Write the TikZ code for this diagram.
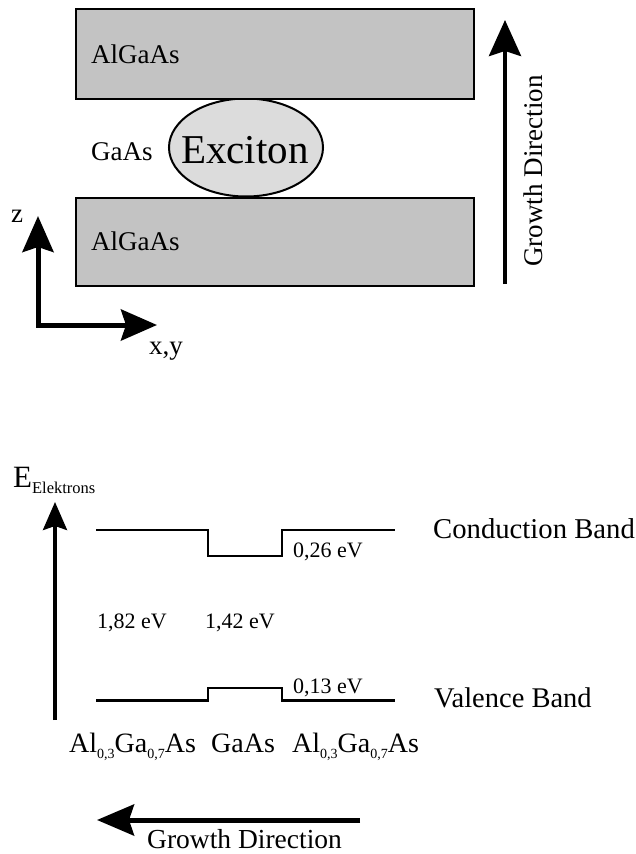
\documentclass[tikz,border=0pt]{standalone}
\usepackage{fontspec}
\setmainfont{Liberation Serif}
\usetikzlibrary{arrows.meta,shapes.geometric}
\definecolor{boxgray}{HTML}{C3C3C3}
\definecolor{exgray}{HTML}{DCDCDC}
\newcommand{\fsz}[1]{\fontsize{#1}{#1}\selectfont}
\newcommand{\sbs}[1]{\raisebox{-6pt}{\fsz{14}#1}}
\begin{document}
\begin{tikzpicture}[x=1pt,y=-1pt,
  layer/.style={draw=black, line width=2pt, fill=boxgray, inner sep=0pt, anchor=north west, minimum width=398pt},
  lbl/.style={inner sep=0pt, font=\fsz{27}},
  small/.style={inner sep=0pt, font=\fsz{22}},
  bigarrow/.style={line width=4pt, -{Stealth[length=36pt,width=32pt,inset=5pt]}},
  band/.style={line width=2.6pt, line join=miter}]
\useasboundingbox (0,0) rectangle (635,854);

% ---------- top: quantum well ----------
\node (exc) [ellipse, draw=black, line width=2pt, fill=exgray, minimum width=154pt, minimum height=98pt, inner sep=0pt] at (246,147.5) {};
\node (top) [layer, minimum height=90pt] at (75,8) {};
\node (bot) [layer, minimum height=88pt] at (75,197) {};
\node (exctxt) [inner sep=0pt, font=\fsz{41}, anchor=base] at (245,163) {Exciton};
\node (l1) [lbl, anchor=base west] at (91,63) {AlGaAs};
\node (l2) [lbl, anchor=base west] at (91,250) {AlGaAs};
\node (l3) [lbl, anchor=base west] at (91,160) {GaAs};

\coordinate (g1s) at (505,284);
\coordinate (g1e) at (505,20);
\draw[bigarrow] (g1s) -- (g1e);
\node (gd1) [lbl, rotate=90, anchor=base] at (542,171) {Growth Direction};

\coordinate (zo) at (38,325);
\coordinate (zt) at (38,216);
\coordinate (xt) at (157,325);
\draw[line width=5pt, line join=miter, {Stealth[length=36pt,width=31pt,inset=5pt]}-{Stealth[length=36pt,width=31pt,inset=5pt]}] (zt) -- (zo) -- (xt);
\node (zl) [lbl, anchor=base] at (17,222) {z};
\node (xyl) [lbl, anchor=base] at (166,354) {x,y};

% ---------- bottom: band diagram ----------
\node (el) [inner sep=0pt, anchor=base west, font=\fsz{31}] at (13,487) {E\raisebox{-6pt}{\fsz{16.5}Elektrons}};
\coordinate (es) at (55,720);
\coordinate (ee) at (55,502);
\draw[line width=3.5pt, -{Stealth[length=28pt,width=24pt,inset=4pt]}] (es) -- (ee);

\coordinate (c0) at (96,530);
\coordinate (c1) at (208,530);
\coordinate (c2) at (208,556);
\coordinate (c3) at (282,556);
\coordinate (c4) at (282,530);
\coordinate (c5) at (395,530);
\draw[band] (c0) -- (c1) -- (c2) -- (c3) -- (c4) -- (c5);

\coordinate (v0) at (96,700.5);
\coordinate (v1) at (208,700.5);
\coordinate (v2) at (208,688);
\coordinate (v3) at (282,688);
\coordinate (v4) at (282,700.5);
\coordinate (v5) at (395,700.5);
\draw[band] (v0) -- (v1) -- (v2) -- (v3) -- (v4) -- (v5);

\node (cb) [inner sep=0pt, font=\fsz{28.7}, anchor=base west] at (433,538) {Conduction Band};
\node (vb) [inner sep=0pt, font=\fsz{28.5}, anchor=base west] at (434,707) {Valence Band};
\node (e26) [small, anchor=base west] at (293,557) {0,26 eV};
\node (e13) [small, anchor=base west] at (293,693) {0,13 eV};
\node (e182) [small, anchor=base west] at (97,628) {1,82 eV};
\node (e142) [small, anchor=base west] at (205,628) {1,42 eV};

\node (m1) [inner sep=0pt, font=\fsz{28}, anchor=base west] at (69,752) {Al\sbs{0,3}Ga\sbs{0,7}As};
\node (m2) [inner sep=0pt, font=\fsz{28}, anchor=base west] at (211,752) {GaAs};
\node (m3) [inner sep=0pt, font=\fsz{28}, anchor=base west] at (292,752) {Al\sbs{0,3}Ga\sbs{0,7}As};

\coordinate (g2s) at (360,820);
\coordinate (g2e) at (97,820);
\draw[line width=5pt, -{Stealth[length=37pt,width=31pt,inset=5pt]}] (g2s) -- (g2e);
\node (gd2) [lbl, font=\fsz{27.5}, anchor=base west] at (147,848) {Growth Direction};
\end{tikzpicture}
\end{document}
